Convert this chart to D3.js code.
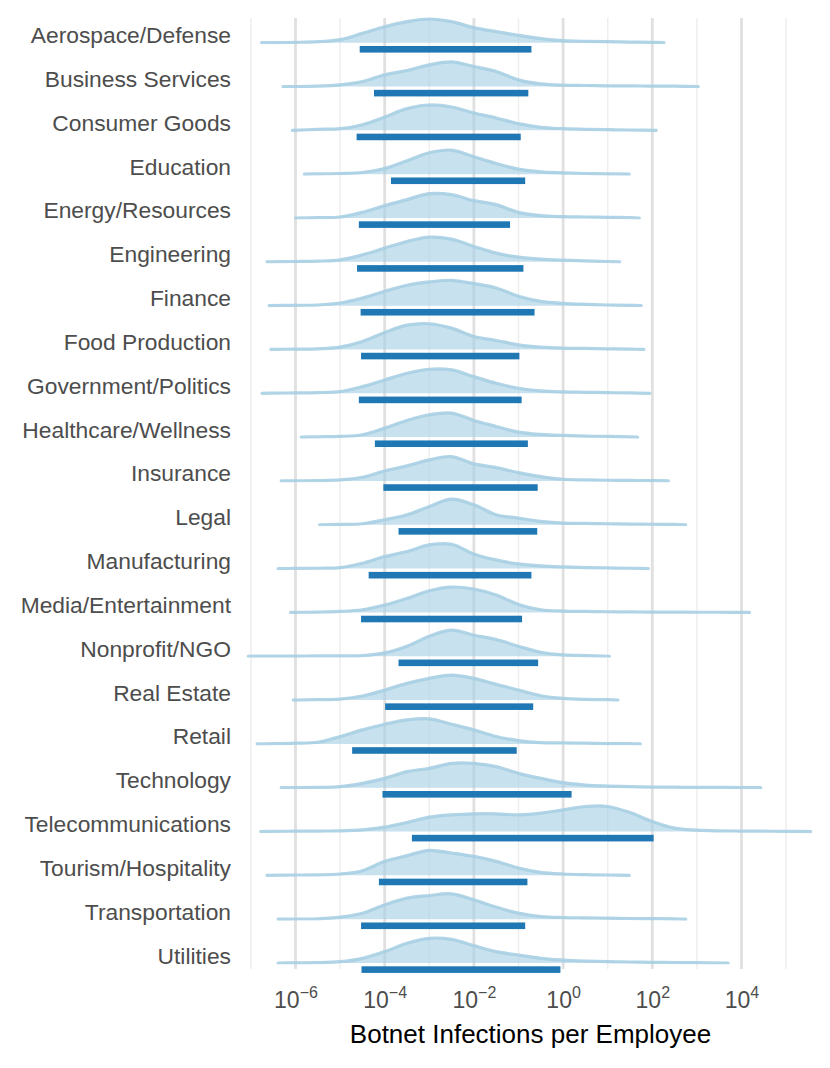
<!DOCTYPE html>
<html>
<head>
<meta charset="utf-8">
<script src="https://cdn.jsdelivr.net/npm/d3@7"></script>
<style>
  html, body { margin: 0; padding: 0; background: #fff; }
  svg { display: block; font-family: "Liberation Sans", Arial, Helvetica, sans-serif; }
</style>
</head>
<body>
<svg id="chart" width="830" height="1068"></svg>
<script>
// ---------------- data ----------------
const categories = [
  "Aerospace/Defense", "Business Services", "Consumer Goods", "Education",
  "Energy/Resources", "Engineering", "Finance", "Food Production",
  "Government/Politics", "Healthcare/Wellness", "Insurance", "Legal",
  "Manufacturing", "Media/Entertainment", "Nonprofit/NGO", "Real Estate",
  "Retail", "Technology", "Telecommunications", "Tourism/Hospitality",
  "Transportation", "Utilities"
];

// log10 positions at which the density heights were read
const gridExp = [-7, -6.5, -6, -5.5, -5, -4.5, -4, -3.5, -3, -2.5, -2, -1.5, -1,
  -0.5, 0, 0.5, 1, 1.5, 2, 2.5, 3, 3.5, 4, 4.5, 5, 5.5];

// relative density heights (one row per category, aligned with gridExp)
const densityValues = [
  [0,0,1,3,9,28,48,63,71,63,45,33,22,12,6,4,3,2,1,0,0,0,0,0,0,0],
  [0,0,0,1,5,15,35,48,65,74,60,45,20,8,4,3,2,2,1,1,0,0,0,0,0,0],
  [0,0,1,3,5,17,40,65,76,70,52,37,20,9,5,3,2,1,0.5,0,0,0,0,0,0,0],
  [0,0,0,1,2,5,17,40,64,72,52,32,15,7,4,2,1,0,0,0,0,0,0,0,0,0],
  [0,0,0,1,3,17,37,55,73,70,52,40,17,7,4,3,2,1,0,0,0,0,0,0,0,0],
  [0,0.5,1,2,6,21,41,61,74,68,46,26,14,8,5,3,1,0,0,0,0,0,0,0,0,0],
  [0,0,1,2,8,23,43,61,71,76,66,53,28,13,7,4,2,1,0,0,0,0,0,0,0,0],
  [0,0,1,2,7,24,51,73,77,64,39,27,14,7,4,3,2,1,0,0,0,0,0,0,0,0],
  [0,0.5,1,2,5,20,40,60,72,70,50,30,15,7,4,3,2,1,0,0,0,0,0,0,0,0],
  [0,0,0,1,2,7,27,50,67,72,50,32,15,8,5,3,2,1,0,0,0,0,0,0,0,0],
  [0,0,0.5,1,3,11,30,45,63,73,51,40,25,13,5,3,2,1.5,1,0.5,0,0,0,0,0,0],
  [0,0,0,0,1,3,15,30,55,77,60,30,20,10,5,4,3,2,1.5,1,0.5,0,0,0,0,0],
  [0,0,0.5,1,3,16,36,51,71,73,44,26,14,8,5,3,2,1,0,0,0,0,0,0,0,0],
  [0,0,0.5,1,3,8,22,42,65,76,70,52,24,8,4,3,2,1.5,1,1,0.5,0.5,0.5,0,0,0],
  [0,0.5,0.5,1,1,2,10,30,60,78,63,50,30,12,4,2,1,0,0,0,0,0,0,0,0,0],
  [0,0,0.5,1,3,12,30,50,65,75,65,47,30,13,5,2,1,0,0,0,0,0,0,0,0,0],
  [0,0.5,2,5,22,42,59,72,75,59,42,22,10,4,3,2,1,0.5,0,0,0,0,0,0,0,0],
  [0,0,0.5,1,3,13,28,48,58,73,73,63,43,28,15,8,5,3,2,1.5,1,1,0.5,0.5,0,0],
  [0,0.5,1,1.5,2,5,13,27,43,50,53,53,50,55,65,75,75,57,30,10,4,2,1.5,1,0.5,0],
  [0,0.5,1,1.5,4,14,42,59,75,67,57,42,22,9,4,2,1,0,0,0,0,0,0,0,0,0],
  [0,0,0.5,1,6,18,43,63,71,76,58,36,18,8,5,4,3,2,1.5,1,0.5,0,0,0,0,0],
  [0,0,0.5,1,4,14,34,59,74,71,52,34,24,14,9,6,4,3,2,1.5,1,0.5,0,0,0,0]
];

// extent of each density line (log10 of infections per employee)
const lineLow  = [-6.76,-6.28,-6.07,-5.80,-6.00,-6.64,-6.59,-6.55,-6.75,-5.87,-6.32,-5.46,
                  -6.39,-6.11,-7.06,-6.05,-6.86,-6.32,-6.78,-6.64,-6.39,-6.39];
const lineHigh = [ 2.26, 3.03, 2.09, 1.48, 1.71, 1.27, 1.75, 1.81, 1.94, 1.67, 2.36, 2.75,
                   1.91, 4.18, 1.04, 1.23, 1.73, 4.43, 5.55, 1.48, 2.75, 3.70];

// interval bars (log10)
const barLow  = [-4.56,-4.24,-4.63,-3.86,-4.58,-4.62,-4.54,-4.53,-4.58,-4.22,-4.03,-3.69,
                 -4.36,-4.53,-3.69,-3.99,-4.73,-4.05,-3.39,-4.13,-4.53,-4.52];
const barHigh = [-0.71,-0.78,-0.95,-0.85,-1.19,-0.89,-0.64,-0.98,-0.93,-0.79,-0.57,-0.58,
                 -0.71,-0.92, -0.56,-0.67,-1.04, 0.19, 2.03,-0.80,-0.85,-0.06];

const majorTicks = [1e-6, 1e-4, 1e-2, 1e0, 1e2, 1e4];
const tickExponents = ["−6", "−4", "−2", "0", "2", "4"];
const minorTicks = [1e-7, 1e-5, 1e-3, 1e-1, 1e1, 1e3, 1e5];
const xTitle = "Botnet Infections per Employee";

// ---------------- layout ----------------
const svg = d3.select("#chart");
const panel = { left: 243, right: 818, top: 18, bottom: 969 };

const x = d3.scaleLog().domain([1e-6, 1e4]).range([295.5, 741.5]);
const y = d3.scalePoint().domain(categories).range([42.7, 963]);
const h = d3.scaleLinear().domain([0, 80]).range([0, 26.7]);

svg.append("rect").attr("width", 830).attr("height", 1068).attr("fill", "#fff");

// gridlines
const grid = svg.append("g");
grid.selectAll("line.minor").data(minorTicks).join("line")
  .attr("class", "minor")
  .attr("x1", d => x(d)).attr("x2", d => x(d))
  .attr("y1", panel.top).attr("y2", panel.bottom)
  .attr("stroke", "#eeeeee").attr("stroke-width", 1.5);
grid.selectAll("line.major").data(majorTicks).join("line")
  .attr("class", "major")
  .attr("x1", d => x(d)).attr("x2", d => x(d))
  .attr("y1", panel.top).attr("y2", panel.bottom)
  .attr("stroke", "#e0e0e0").attr("stroke-width", 2.8);

// ridges
const ridges = categories.map((c, i) => {
  const pts = [[lineLow[i], 0]];
  gridExp.forEach((e, j) => {
    if (e > lineLow[i] + 0.2 && e < lineHigh[i] - 0.2) pts.push([e, densityValues[i][j]]);
  });
  pts.push([lineHigh[i], 0]);
  return { cat: c, pts };
});

const curve = d3.curveCatmullRom.alpha(0.5);
const ridgeG = svg.append("g");
ridges.forEach(r => {
  const base = y(r.cat);
  const top = p => Math.min(base, base - h(p[1]));
  const area = d3.area()
    .x(p => x(Math.pow(10, p[0])))
    .y0(base)
    .y1(p => base - h(p[1]))
    .curve(curve);
  const line = d3.line()
    .x(p => x(Math.pow(10, p[0])))
    .y(p => base - h(p[1]))
    .curve(curve);
  const clipId = "clip" + categories.indexOf(r.cat);
  svg.append("clipPath").attr("id", clipId).append("rect")
    .attr("x", 0).attr("y", 0).attr("width", 830).attr("height", base + 1.6);
  ridgeG.append("path").attr("d", area(r.pts))
    .attr("clip-path", `url(#${clipId})`)
    .attr("fill", "#a6cee3").attr("fill-opacity", 0.62);
  ridgeG.append("path").attr("d", line(r.pts))
    .attr("clip-path", `url(#${clipId})`)
    .attr("fill", "none").attr("stroke", "#a6cee3").attr("stroke-opacity", 0.88)
    .attr("stroke-width", 3.2).attr("stroke-linecap", "round").attr("stroke-linejoin", "round");
});

// interval bars
svg.append("g").selectAll("rect").data(categories).join("rect")
  .attr("x", (c, i) => x(Math.pow(10, barLow[i])))
  .attr("width", (c, i) => x(Math.pow(10, barHigh[i])) - x(Math.pow(10, barLow[i])))
  .attr("y", c => y(c) + 6.6 - 3.3)
  .attr("height", 6.6)
  .attr("fill", "#1f78b4");

// y labels
svg.append("g").selectAll("text").data(categories).join("text")
  .attr("x", 231).attr("y", c => y(c) + 0.5)
  .attr("text-anchor", "end")
  .attr("font-size", 22.8)
  .attr("fill", "#4d4d4d")
  .text(c => c);

// x axis
const xAxis = d3.axisBottom(x).tickValues(majorTicks).tickSize(0).tickFormat("");
const axG = svg.append("g").attr("transform", `translate(0, ${panel.bottom})`).call(xAxis);
axG.select(".domain").remove();
axG.selectAll(".tick").each(function(d, i) {
  const t = d3.select(this).append("text")
    .attr("y", 39).attr("text-anchor", "middle")
    .attr("fill", "#4d4d4d").attr("font-size", 23)
    .attr("font-family", "Liberation Sans, Arial, sans-serif");
  t.append("tspan").text("10");
  t.append("tspan").attr("dy", -10).attr("font-size", 16).text(tickExponents[i]);
});

svg.append("text")
  .attr("x", (panel.left + panel.right) / 2).attr("y", 1043)
  .attr("text-anchor", "middle").attr("font-size", 26).attr("fill", "#000")
  .text(xTitle);
</script>
</body>
</html>
